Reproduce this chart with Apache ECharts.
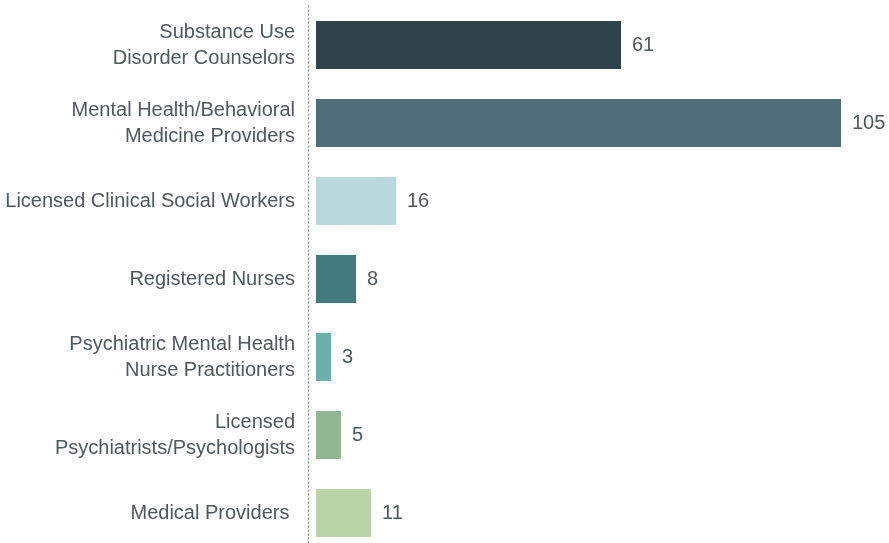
<!DOCTYPE html>
<html>
<head>
<meta charset="utf-8">
<script src="https://cdn.jsdelivr.net/npm/echarts@6/dist/echarts.min.js"></script>
<style>html,body{margin:0;padding:0;background:#fff;overflow:hidden}#c{width:889px;height:552px}</style>
</head>
<body>
<div id="c"></div>
<script>
const categories = [
  "Substance Use\nDisorder Counselors",
  "Mental Health/Behavioral\nMedicine Providers",
  "Licensed Clinical Social Workers",
  "Registered Nurses",
  "Psychiatric Mental Health\nNurse Practitioners",
  "Licensed\nPsychiatrists/Psychologists",
  "Medical Providers\u00a0"
];
const values = [61, 105, 16, 8, 3, 5, 11];
const colors = ["#30424b", "#526d7a", "#b8d8db", "#447a7e", "#6cb1a7", "#92b594", "#bad3a9"];

const chart = echarts.init(document.getElementById('c'), null, {renderer: 'canvas'});
chart.setOption({
  animation: false,
  grid: {left: 316, right: 48, top: 6, bottom: 0, containLabel: false},
  xAxis: {type: 'value', min: 0, max: 105, show: false},
  yAxis: {
    type: 'category', data: categories, inverse: true, position: 'left', offset: 8,
    axisLine: {show: true, onZero: false, lineStyle: {color: '#777', type: [1, 3], width: 1}},
    axisTick: {show: false},
    axisLabel: {margin: 13, color: '#4d585f', fontSize: 20, fontFamily: 'Liberation Sans', lineHeight: 26, align: 'right'}
  },
  series: [{
    type: 'bar', barWidth: 48,
    data: values.map((v, i) => ({value: v, itemStyle: {color: colors[i]}})),
    label: {show: true, position: 'right', distance: 11, color: '#4d585f', fontSize: 20, fontFamily: 'Liberation Sans'}
  }]
});
</script>
</body>
</html>
